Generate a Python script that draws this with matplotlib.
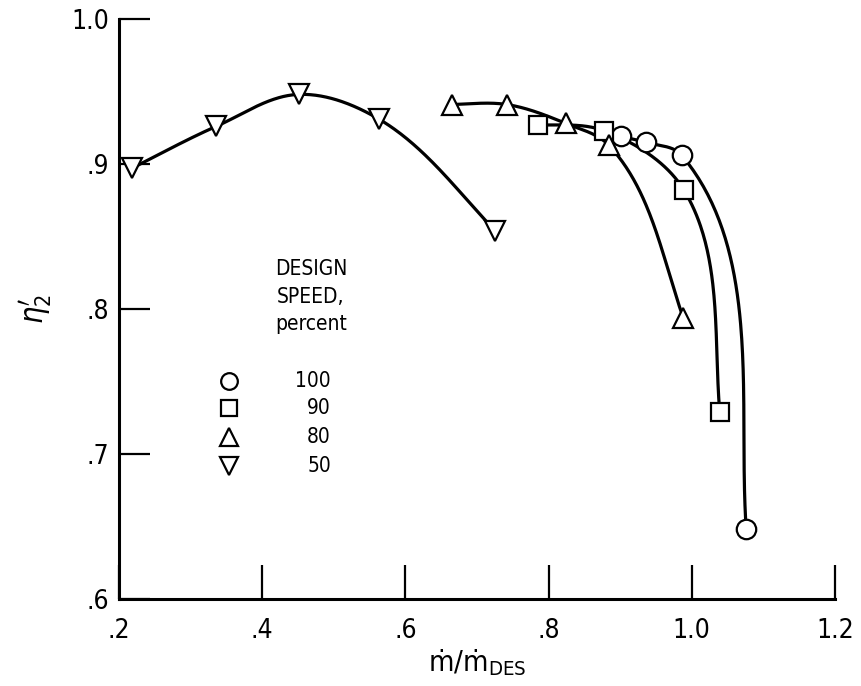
import numpy as np
import matplotlib
matplotlib.use("Agg")
import matplotlib.pyplot as plt

plt.rcParams['font.family'] = ['DejaVu Sans']
plt.rcParams['font.stretch'] = 'condensed'
plt.rcParams['mathtext.fontset'] = 'dejavusans'

# ---- data ----
x100 = [0.901, 0.936, 0.986, 1.076]
y100 = [0.919, 0.915, 0.906, 0.648]

x90 = [0.785, 0.877, 0.989, 1.039]
y90 = [0.927, 0.923, 0.882, 0.729]

x80 = [0.665, 0.742, 0.824, 0.884, 0.988]
y80 = [0.941, 0.941, 0.928, 0.913, 0.794]

x50 = [0.218, 0.336, 0.451, 0.563, 0.725]
y50 = [0.897, 0.926, 0.948, 0.931, 0.854]

legend_labels = ['100', '90', '80', '50']
xticks = [0.2, 0.4, 0.6, 0.8, 1.0, 1.2]
xticklabels = ['.2', '.4', '.6', '.8', '1.0', '1.2']
yticks = [0.6, 0.7, 0.8, 0.9, 1.0]
yticklabels = ['.6', '.7', '.8', '.9', '1.0']

SX, SY = 716.0, 1450.0  # pixel scale so the faired curve is even on screen


def unit(v):
    return v / np.hypot(*v)


def faired(xs, ys, n=80, f=0.2):
    P = np.column_stack([np.asarray(xs) * SX, np.asarray(ys) * SY])
    m = len(P)
    chords = [unit(P[i + 1] - P[i]) for i in range(m - 1)]
    T = [None] * m
    for i in range(1, m - 1):
        T[i] = unit(chords[i - 1] + chords[i])
    # ends: blend chord direction with the mirror of the neighbouring tangent
    c = chords[0]
    mir = 2 * np.dot(T[1], c) * c - T[1]
    T[0] = unit((1 - f) * c + f * mir)
    c = chords[-1]
    mir = 2 * np.dot(T[-2], c) * c - T[-2]
    T[-1] = unit((1 - f) * c + f * mir)
    out = []
    s = np.linspace(0, 1, n)
    h00 = 2 * s**3 - 3 * s**2 + 1
    h10 = s**3 - 2 * s**2 + s
    h01 = -2 * s**3 + 3 * s**2
    h11 = s**3 - s**2
    for i in range(m - 1):
        L = np.hypot(*(P[i + 1] - P[i]))
        seg = (np.outer(h00, P[i]) + np.outer(h10, T[i] * L)
               + np.outer(h01, P[i + 1]) + np.outer(h11, T[i + 1] * L))
        out.append(seg if i == 0 else seg[1:])
    out = np.vstack(out)
    return out[:, 0] / SX, out[:, 1] / SY


fig = plt.figure(figsize=(8.62, 6.86), dpi=100)
ax = fig.add_axes([0.138, 0.1268, 0.8307, 0.8455])

lw = 2.3
mew = 1.6
series = [(x100, y100, 'o', 14.0),
          (x90, y90, 's', 13.5),
          (x80, y80, '^', 15.0),
          (x50, y50, 'v', 15.0)]
for xs, ys, m, ms in series:
    cx, cy = faired(xs, ys)
    ax.plot(cx, cy, color='black', lw=lw, zorder=2, solid_capstyle='round')
    ax.plot(xs, ys, linestyle='none', marker=m, ms=ms, mfc='white',
            mec='black', mew=mew, zorder=3, clip_on=False)

ax.set_xlim(0.2, 1.2)
ax.set_ylim(0.6, 1.0)
for s in ['top', 'right']:
    ax.spines[s].set_visible(False)
for s in ['left', 'bottom']:
    ax.spines[s].set_linewidth(2.2)

ax.set_xticks(xticks)
ax.set_xticklabels(xticklabels)
ax.set_yticks(yticks)
ax.set_yticklabels(yticklabels)
ax.tick_params(axis='x', direction='in', length=24.5, width=1.6, pad=14,
               labelsize=19)
ax.tick_params(axis='y', direction='in', length=22, width=1.6, pad=7,
               labelsize=19)

ax.set_xlabel('ṁ/ṁ$_{\\mathrm{DES}}$', fontsize=21, labelpad=2)
ax.set_ylabel("$\\eta_2^{\\prime}$", fontsize=22, labelpad=12)

# legend block
ax.text(0.468, 0.8275, 'DESIGN', ha='center', va='center', fontsize=15)
ax.text(0.468, 0.808, 'SPEED,', ha='center', va='center', fontsize=15)
ax.text(0.468, 0.7895, 'percent', ha='center', va='center', fontsize=15)
leg_markers = ['o', 's', '^', 'v']
leg_sizes = [12, 11.5, 12.5, 12.5]
leg_y = [0.7503, 0.7317, 0.7117, 0.6917]
for m, ms, lab, yy in zip(leg_markers, leg_sizes, legend_labels, leg_y):
    ax.plot([0.353], [yy], marker=m, ms=ms, mfc='white', mec='black',
            mew=mew, linestyle='none')
    ax.text(0.496, yy, lab, ha='right', va='center', fontsize=15)

fig.savefig('out.png', dpi=100)
